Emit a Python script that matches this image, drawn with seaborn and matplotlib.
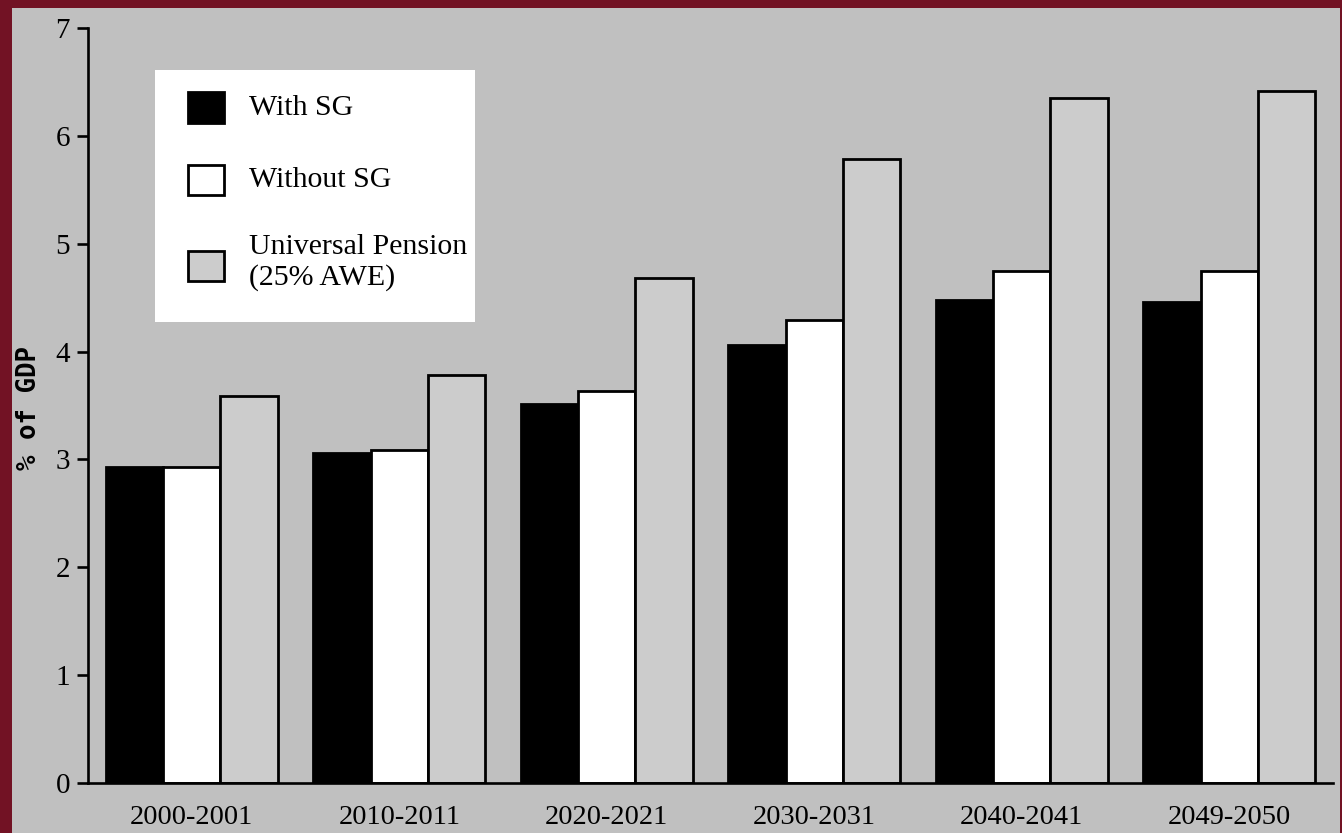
import numpy as np
import pandas as pd
import matplotlib
matplotlib.use("Agg")
import matplotlib.pyplot as plt
from matplotlib.patches import Patch, Rectangle
from matplotlib.legend_handler import HandlerPatch
import seaborn as sns

# Age pension outlays, % of GDP
periods = ["2000-2001", "2010-2011", "2020-2021", "2030-2031", "2040-2041", "2049-2050"]
with_sg = [2.93, 3.06, 3.51, 4.06, 4.48, 4.46]
without_sg = [2.93, 3.09, 3.63, 4.29, 4.75, 4.75]
universal = [3.59, 3.78, 4.68, 5.79, 6.35, 6.42]
series_names = ["With SG", "Without SG", "Universal Pension\n(25% AWE)"]
y_ticks = [0, 1, 2, 3, 4, 5, 6, 7]

MAROON = "#721224"
PANEL = "#C0C0C0"
BAR_GREY = "#CCCCCC"
colors = ["#000000", "#FFFFFF", BAR_GREY]

df = pd.DataFrame({
    "period": periods * 3,
    "series": [s for s in series_names for _ in periods],
    "value": with_sg + without_sg + universal,
})

sns.set_theme(style="white")
plt.rcParams["font.family"] = ["Liberation Serif", "DejaVu Serif"]
plt.rcParams["text.color"] = "black"

W, H = 1342, 833
fig = plt.figure(figsize=(W / 100, H / 100), dpi=100)
fig.patch.set_facecolor(MAROON)
# grey panel inside the maroon border
fig.add_artist(Rectangle((12 / W, 0), (1340 - 12) / W, (H - 8) / H,
                         transform=fig.transFigure, facecolor=PANEL,
                         edgecolor="none", zorder=0))

ax_l, ax_r, ax_t, ax_b = 88, 1333, 28, 783
ax = fig.add_axes([ax_l / W, (H - ax_b) / H, (ax_r - ax_l) / W, (ax_b - ax_t) / H])
ax.set_facecolor(PANEL)

sns.barplot(data=df, x="period", y="value", hue="series", hue_order=series_names,
            order=periods, palette=colors, edgecolor="black", linewidth=2.0,
            width=0.83, saturation=1, legend=False, ax=ax, zorder=2)

ax.set_xlim(-0.5, len(periods) - 0.5)
ax.set_ylim(0, 7)
ax.set_yticks(y_ticks)
ax.set_yticklabels([str(t) for t in y_ticks], fontsize=21)

# category separators as major ticks, labels centred on minor ticks
ax.set_xticks(np.arange(-0.5, len(periods), 1.0))
ax.set_xticklabels([])
ax.set_xticks(np.arange(len(periods)), minor=True)
ax.set_xticklabels(periods, minor=True, fontsize=20.5)
ax.tick_params(axis="x", which="major", direction="out", length=8, width=1.9, color="black")
ax.tick_params(axis="x", which="minor", length=0, pad=16, labelcolor="black")
ax.tick_params(axis="y", which="major", direction="out", length=8, width=1.9,
               color="black", pad=5, labelcolor="black", left=True)
ax.set_xlabel("")
ax.set_ylabel("")

for side in ("top", "right"):
    ax.spines[side].set_visible(False)
for side in ("left", "bottom"):
    ax.spines[side].set_color("black")
    ax.spines[side].set_linewidth(1.9)
    ax.spines[side].set_zorder(5)

fig.text(29 / W, (H - 408) / H, "% of GDP", rotation=90, ha="center", va="center",
         fontsize=18.5, fontweight="bold", family="DejaVu Sans Mono", color="black")

# legend: white box with square swatches
box_x0, box_x1, box_y0, box_y1 = 155, 475, 70, 322
ax.add_patch(Rectangle(((box_x0 - ax_l) / (ax_r - ax_l), (ax_b - box_y1) / (ax_b - ax_t)),
                       (box_x1 - box_x0) / (ax_r - ax_l), (box_y1 - box_y0) / (ax_b - ax_t),
                       transform=ax.transAxes, facecolor="white", edgecolor="none", zorder=6))


def square_swatch(legend, orig_handle, xdescent, ydescent, width, height, fontsize):
    return Rectangle((-xdescent, -ydescent - 0.1 * fontsize), width, height)


handles = [Patch(facecolor=c, edgecolor="black", linewidth=2.0) for c in colors]
leg = ax.legend(handles, series_names, loc="upper left",
                bbox_to_anchor=((188 - ax_l) / (ax_r - ax_l), (ax_b - 89.5) / (ax_b - ax_t)),
                frameon=False, borderpad=0, borderaxespad=0, fontsize=21.5,
                handlelength=1.2, handleheight=1.17, handletextpad=0.85,
                labelspacing=1.38, labelcolor="black",
                handler_map={Patch: HandlerPatch(patch_func=square_swatch)})
leg.set_zorder(7)

fig.savefig("out.png", dpi=100, facecolor=fig.get_facecolor())
